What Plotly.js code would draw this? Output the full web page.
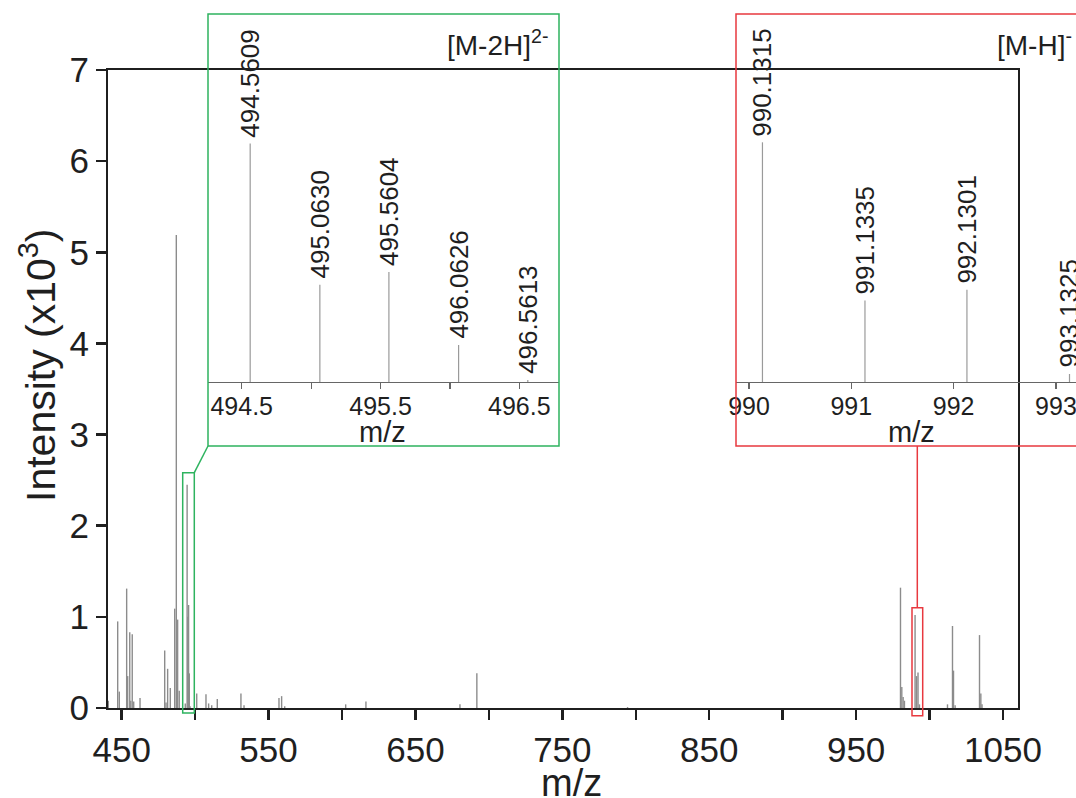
<!DOCTYPE html>
<html>
<head>
<meta charset="utf-8">
<script src="https://cdn.plot.ly/plotly-3.0.1.min.js"></script>
<style>html,body{margin:0;padding:0;background:#fff;}#chart{width:1076px;height:798px;}</style>
</head>
<body>
<div id="chart"></div>
<script>
// ---- Data (intensity in x10^3) ----
const mainMz = [440.9, 447.3, 448.4, 453.4, 454.1, 455.5, 456.2, 457.2, 458.2, 462.5,
  479.3, 480.2, 481.3, 483.1, 486.1, 487.2, 488.1, 489.2, 493.3,
  494.5609, 495.0630, 495.5604, 496.0626, 496.5613,
  501.1, 507.4, 509.2, 511.3, 515.1, 531.2, 533.3, 557.1, 558.9, 561.0,
  602.5, 616.3, 680.3, 691.8, 794.4,
  980.2, 981.1, 982.0, 982.9,
  990.1315, 991.1335, 992.1301, 993.1325,
  1012.2, 1015.6, 1016.3, 1017.4, 1034.0, 1034.9, 1035.7];
const mainInt = [0.08, 0.95, 0.18, 1.31, 0.35, 0.83, 0.08, 0.81, 0.07, 0.11,
  0.63, 0.06, 0.43, 0.22, 1.09, 5.19, 0.97, 0.19, 0.05,
  2.45, 1.00, 1.13, 0.38, 0.02,
  0.16, 0.15, 0.05, 0.03, 0.10, 0.16, 0.03, 0.11, 0.13, 0.02,
  0.04, 0.07, 0.04, 0.38, 0.01,
  1.32, 0.23, 0.12, 0.08,
  1.02, 0.35, 0.39, 0.04,
  0.04, 0.90, 0.41, 0.03, 0.80, 0.16, 0.04];

const dianionMz = [494.5609, 495.0630, 495.5604, 496.0626, 496.5613];
const dianionInt = [2.45, 1.00, 1.13, 0.38, 0.02];
const dianionLabels = ['494.5609', '495.0630', '495.5604', '496.0626', '496.5613'];
const dianionTickVals = [494.5, 495.0, 495.5, 496.0, 496.5];
const dianionTickText = ['494.5', '', '495.5', '', '496.5'];

const anionMz = [990.1315, 991.1335, 992.1301, 993.1325];
const anionInt = [1.02, 0.347, 0.393, 0.034];
const anionLabels = ['990.1315', '991.1335', '992.1301', '993.1325'];
const anionTickVals = [990, 991, 992, 993];
const anionTickText = ['990', '991', '992', '993'];

const mainYTicks = [0, 1, 2, 3, 4, 5, 6, 7];

// ---- helpers ----
function sticks(xs, ys) {
  const X = [], Y = [];
  xs.forEach((m, i) => { X.push(m, m, null); Y.push(0, ys[i], null); });
  return {X, Y};
}

const FONT = 'Liberation Sans, Arial, Helvetica, sans-serif';
const INK = '#1f1f1f';
const GREEN = '#2eb35f';
const RED = '#e8393f';

const W = 1076, H = 798, ML = 108, MR = 0, MT = 10, MB = 90;
const PW = W - ML - MR, PH = H - MT - MB;
const px = x => (x - ML) / PW;
const py = y => (H - MB - y) / PH;

const m = sticks(mainMz, mainInt);
const g = sticks(dianionMz, dianionInt);
const r = sticks(anionMz, anionInt);

const traces = [
  {x: m.X, y: m.Y, mode: 'lines', line: {color: '#8c8c8c', width: 1.4}, xaxis: 'x', yaxis: 'y', hoverinfo: 'skip'},
  {x: g.X, y: g.Y, mode: 'lines', line: {color: '#9a9a9a', width: 1.2}, xaxis: 'x2', yaxis: 'y2', hoverinfo: 'skip'},
  {x: r.X, y: r.Y, mode: 'lines', line: {color: '#9a9a9a', width: 1.2}, xaxis: 'x3', yaxis: 'y3', hoverinfo: 'skip'}
];

const annotations = [];
dianionMz.forEach((mz, i) => annotations.push({
  x: mz, y: dianionInt[i], xref: 'x2', yref: 'y2', text: dianionLabels[i], textangle: -90,
  showarrow: false, xanchor: 'center', yanchor: 'bottom', yshift: 4,
  font: {family: FONT, size: 26, color: INK}
}));
anionMz.forEach((mz, i) => annotations.push({
  x: mz, y: anionInt[i], xref: 'x3', yref: 'y3', text: anionLabels[i], textangle: -90,
  showarrow: false, xanchor: 'center', yanchor: 'bottom', yshift: 4,
  font: {family: FONT, size: 26, color: INK}
}));
annotations.push({x: px(550), y: py(43), xref: 'paper', yref: 'paper', text: '[M-2H]<sup>2-</sup>',
  showarrow: false, xanchor: 'right', yanchor: 'middle', font: {family: FONT, size: 28, color: INK}});
annotations.push({x: px(1074), y: py(43), xref: 'paper', yref: 'paper', text: '[M-H]<sup>-</sup>',
  showarrow: false, xanchor: 'right', yanchor: 'middle', font: {family: FONT, size: 28, color: INK}});
// axis titles
annotations.push({x: px(571), y: py(783), xref: 'paper', yref: 'paper', text: 'm/z',
  showarrow: false, xanchor: 'center', yanchor: 'middle', font: {family: FONT, size: 38, color: INK}});
annotations.push({x: px(38), y: py(366), xref: 'paper', yref: 'paper', text: 'Intensity (x10<sup>3</sup>)',
  textangle: -90, showarrow: false, xanchor: 'center', yanchor: 'middle', font: {family: FONT, size: 41, color: INK}});
annotations.push({x: px(382), y: py(432), xref: 'paper', yref: 'paper', text: 'm/z',
  showarrow: false, xanchor: 'center', yanchor: 'middle', font: {family: FONT, size: 29, color: INK}});
annotations.push({x: px(911), y: py(432), xref: 'paper', yref: 'paper', text: 'm/z',
  showarrow: false, xanchor: 'center', yanchor: 'middle', font: {family: FONT, size: 29, color: INK}});

const shapes = [
  // inset frames
  {type: 'rect', xref: 'paper', yref: 'paper', x0: px(208), x1: px(559), y0: py(446), y1: py(14), line: {color: GREEN, width: 1.5}},
  {type: 'rect', xref: 'paper', yref: 'paper', x0: px(736), x1: px(1090), y0: py(446), y1: py(14), line: {color: RED, width: 1.5}},
  // zoom windows in main spectrum
  {type: 'rect', xref: 'paper', yref: 'paper', x0: px(182.7), x1: px(194.3), y0: py(713), y1: py(472.7), line: {color: GREEN, width: 1.5}},
  {type: 'rect', xref: 'paper', yref: 'paper', x0: px(912), x1: px(922.7), y0: py(715.7), y1: py(607.7), line: {color: RED, width: 1.5}},
  // connectors
  {type: 'line', xref: 'paper', yref: 'paper', x0: px(194.3), y0: py(472.7), x1: px(208), y1: py(446), line: {color: GREEN, width: 1.5}},
  {type: 'line', xref: 'paper', yref: 'paper', x0: px(917.3), y0: py(607.7), x1: px(917.3), y1: py(446), line: {color: RED, width: 1.5}}
];

const insetAxis = {
  showline: true, linecolor: '#666', linewidth: 1.4, ticks: 'outside', ticklen: 6, tickwidth: 1.2, tickcolor: '#666',
  tickfont: {family: FONT, size: 25, color: INK}, showgrid: false, zeroline: false, tickmode: 'array',
  ticklabeloverflow: 'allow', ticklabelstandoff: -4
};

const layout = {
  width: W, height: H,
  margin: {l: ML, r: MR, t: MT, b: MB, pad: 0},
  paper_bgcolor: '#fff', plot_bgcolor: 'rgba(0,0,0,0)',
  showlegend: false,
  font: {family: FONT, color: INK},
  xaxis: {
    domain: [0, px(1018)], range: [440.7, 1060.2], anchor: 'y',
    showline: true, mirror: true, linecolor: INK, linewidth: 2,
    ticks: 'outside', ticklen: 10, tickwidth: 2.5, tickcolor: INK,
    tick0: 450, dtick: 100,
    minor: {dtick: 50, tick0: 450, ticks: 'outside', ticklen: 10, tickwidth: 2.5, tickcolor: INK},
    tickfont: {family: FONT, size: 35, color: INK},
    showgrid: false, zeroline: false
  },
  yaxis: {
    domain: [0, py(70)], range: [0, 7], anchor: 'x',
    showline: true, mirror: true, linecolor: INK, linewidth: 2,
    ticks: 'outside', ticklen: 10, tickwidth: 2.5, tickcolor: INK,
    tickmode: 'array', tickvals: mainYTicks,
    tickfont: {family: FONT, size: 35, color: INK},
    showgrid: false, zeroline: false
  },
  xaxis2: Object.assign({}, insetAxis, {domain: [px(208), px(559)], range: [494.257, 496.786], anchor: 'y2',
    tickvals: dianionTickVals, ticktext: dianionTickText}),
  yaxis2: {domain: [py(382), py(14)], range: [0, 3.78], anchor: 'x2', visible: false},
  xaxis3: Object.assign({}, insetAxis, {domain: [px(736), 1], range: [989.873, 993.196], anchor: 'y3',
    tickvals: anionTickVals, ticktext: anionTickText}),
  yaxis3: {domain: [py(382), py(14)], range: [0, 1.566], anchor: 'x3', visible: false},
  annotations: annotations,
  shapes: shapes
};

Plotly.newPlot('chart', traces, layout, {staticPlot: true, displayModeBar: false});
</script>
</body>
</html>
